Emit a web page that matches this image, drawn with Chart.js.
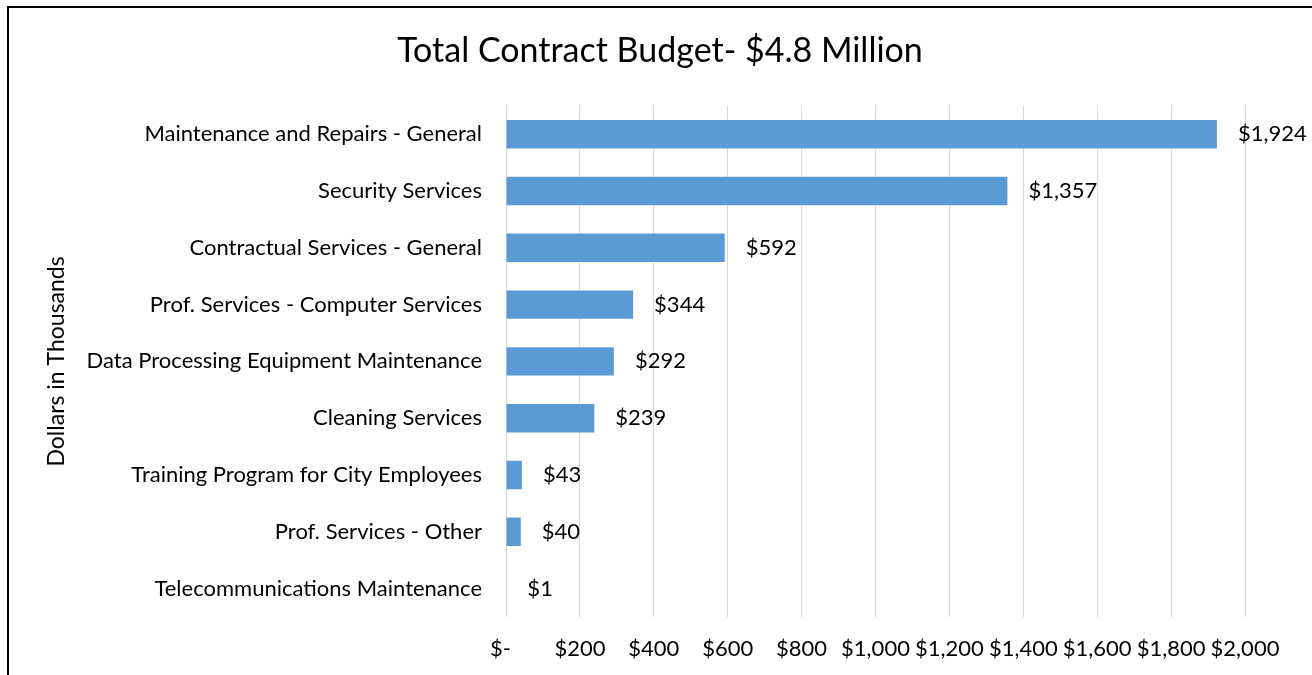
<!DOCTYPE html>
<html>
<head>
<meta charset="utf-8">
<script src="https://cdn.jsdelivr.net/npm/chart.js@4/dist/chart.umd.min.js"></script>
<style>
  html, body { margin: 0; padding: 0; background: #fff; }
  #budget { display: block; }
</style>
</head>
<body>
<canvas id="budget" width="1312" height="675"></canvas>
<script>
// contract categories, top to bottom
const categories = [
    'Maintenance and Repairs - General',
    'Security Services',
    'Contractual Services - General',
    'Prof. Services - Computer Services',
    'Data Processing Equipment Maintenance',
    'Cleaning Services',
    'Training Program for City Employees',
    'Prof. Services - Other',
    'Telecommunications Maintenance'
];
// budget in thousands of dollars
const amounts = [1924, 1357, 592, 344, 292, 239, 43, 40, 1];
// x axis ticks
const tickValues = [0, 200, 400, 600, 800, 1000, 1200, 1400, 1600, 1800, 2000];

const FONT = 'Lato, "Open Sans", sans-serif';

function dollars(v) {
    if (v === 0) return '$-\u2002';
    return '$' + v.toLocaleString('en-US');
}

// value labels just past the end of each bar
const barLabels = {
    id: 'barLabels',
    afterDatasetsDraw(chart) {
        const ctx = chart.ctx;
        const meta = chart.getDatasetMeta(0);
        ctx.save();
        ctx.font = '22px ' + FONT;
        ctx.fillStyle = '#000';
        ctx.textAlign = 'left';
        ctx.textBaseline = 'middle';
        meta.data.forEach((bar, i) => {
            ctx.fillText(dollars(amounts[i]), bar.x + 21, bar.y);
        });
        ctx.restore();
    }
};

// black frame around the chart
const frame = {
    id: 'frame',
    beforeDraw(chart) {
        const ctx = chart.ctx;
        ctx.save();
        ctx.fillStyle = '#fff';
        ctx.fillRect(0, 0, chart.width, chart.height);
        ctx.strokeStyle = '#000';
        ctx.lineWidth = 2;
        ctx.beginPath();
        ctx.moveTo(8, chart.height + 5);
        ctx.lineTo(8, 7);
        ctx.lineTo(chart.width + 5, 7);
        ctx.stroke();
        ctx.restore();
    }
};

new Chart(
    document.getElementById('budget'),
    {
        type: 'bar',
        data: {
            labels: categories,
            datasets: [
                {
                    data: amounts,
                    backgroundColor: '#5b9bd5',
                    borderWidth: 0,
                    categoryPercentage: 1,
                    barPercentage: 0.5
                }
            ]
        },
        options: {
            indexAxis: 'y',
            responsive: false,
            animation: false,
            layout: {
                padding: { left: 8, right: 0, top: 0, bottom: 0 }
            },
            plugins: {
                legend: { display: false },
                tooltip: { enabled: false },
                title: {
                    display: true,
                    text: 'Total Contract Budget- $4.8 Million',
                    color: '#000',
                    font: { family: FONT, size: 34, weight: 'normal' },
                    padding: { top: 31, bottom: 34 }
                }
            },
            scales: {
                x: {
                    min: 0,
                    max: 2000,
                    afterBuildTicks(axis) {
                        axis.ticks = tickValues.map(v => ({ value: v }));
                    },
                    afterFit(axis) {
                        axis.height = 58;
                    },
                    grid: {
                        color: '#d9d9d9',
                        lineWidth: 1,
                        drawTicks: false
                    },
                    border: { display: false },
                    ticks: {
                        color: '#000',
                        padding: 19,
                        maxRotation: 0,
                        autoSkip: false,
                        font: { family: FONT, size: 22 },
                        callback: v => dollars(v)
                    }
                },
                y: {
                    afterFit(axis) {
                        axis.width = 498;
                    },
                    grid: { display: false, drawTicks: false },
                    border: { display: false },
                    ticks: {
                        color: '#000',
                        padding: 24,
                        font: { family: FONT, size: 22 }
                    },
                    title: {
                        display: true,
                        text: 'Dollars in Thousands',
                        color: '#000',
                        font: { family: FONT, size: 23 },
                        padding: { top: 35, bottom: 0 }
                    }
                },
                // empty strip on the right, keeps room for the end labels
                yRight: {
                    type: 'category',
                    position: 'right',
                    afterFit(axis) {
                        axis.width = 67;
                    },
                    grid: { display: false, drawTicks: false },
                    border: { display: false },
                    ticks: { display: false }
                }
            }
        },
        plugins: [frame, barLabels]
    }
);
</script>
</body>
</html>
